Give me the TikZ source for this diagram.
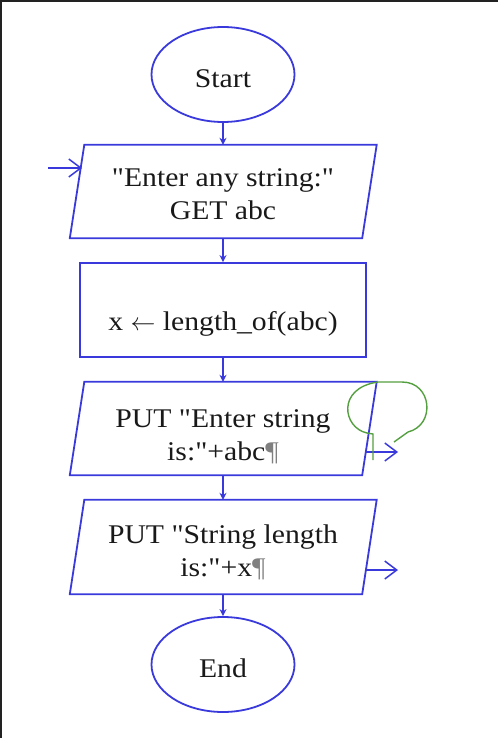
\documentclass[tikz,border=0pt]{standalone}
\usepackage{fontspec}
\setmainfont{Liberation Serif}[FakeStretch=1.1,Ligatures=TeXOff]
\usetikzlibrary{arrows.meta,calc,shapes.geometric}
\definecolor{fblue}{RGB}{58,58,220}
\definecolor{fgreen}{RGB}{84,160,64}
\definecolor{fframe}{RGB}{34,34,34}
\newcommand\low[2]{\raisebox{-#1}[\height][\depth]{\begin{tabular}{@{}c@{}}#2\end{tabular}}}
\begin{document}
\begin{tikzpicture}[x=1pt,y=-1pt,
  outline/.style={draw=fblue,line width=1.8pt},
  term/.style={outline,ellipse,minimum width=143pt,minimum height=95pt,inner sep=0pt},
  io/.style={minimum width=292pt,inner sep=0pt,align=center},
  flow/.style={draw=fblue,line width=1.8pt,-{Stealth[length=7pt,width=7pt]}},
  side/.style={draw=fblue,line width=1.5pt,-{Straight Barb[length=12pt,width=18pt]}},
  txt/.style={font=\fontsize{27}{33}\selectfont,text=black!90}]
\useasboundingbox (0,0) rectangle (498,738);
\draw[fframe,line width=2pt] (1,738) -- (1,1) -- (498,1);

\node[term,txt] (start) at (223,74.5) {\low{6pt}{Start}};
\node[io,txt,minimum height=93pt] (p1) at (223,191.5) {\low{5pt}{"Enter any string:"\\GET abc}};
\draw[outline] ($(p1.north west)+(7.5,0)$) -- ($(p1.north east)+(7.5,0)$) -- ($(p1.south east)+(-7,0)$) -- ($(p1.south west)+(-7,0)$) -- cycle;
\node[outline,txt,minimum width=286pt,minimum height=94pt,inner sep=0pt] (r) at (223,310) {\low{14pt}{x $\leftarrow$ length\_of(abc)}};
\node[io,txt,minimum height=93pt] (p2) at (223,428.5) {\low{9pt}{PUT "Enter string\\is:"+abc{\color{gray}¶}}};
\draw[outline] ($(p2.north west)+(7.5,0)$) -- ($(p2.north east)+(7.5,0)$) -- ($(p2.south east)+(-7,0)$) -- ($(p2.south west)+(-7,0)$) -- cycle;
\node[io,txt,minimum height=94pt] (p3) at (223,547) {\low{6pt}{PUT "String length\\is:"+x{\color{gray}¶}}};
\draw[outline] ($(p3.north west)+(7.5,0)$) -- ($(p3.north east)+(7.5,0)$) -- ($(p3.south east)+(-7,0)$) -- ($(p3.south west)+(-7,0)$) -- cycle;
\node[term,txt] (end) at (223,664.5) {\low{6pt}{End}};

\draw[flow] (start.south) -- (p1.north);
\draw[flow] (p1.south) -- (r.north);
\draw[flow] (r.south) -- (p2.north);
\draw[flow] (p2.south) -- (p3.north);
\draw[flow] (p3.south) -- (end.north);

\coordinate (in1) at (48,168);
\coordinate (in1e) at (82,168);
\draw[side] (in1) -- (in1e);
\coordinate (o2s) at (365,452);
\coordinate (o2e) at (398,452);
\draw[side] (o2s) -- (o2e);
\coordinate (o3s) at (365,570);
\coordinate (o3e) at (398,570);
\draw[side] (o3s) -- (o3e);

\draw[fgreen,line width=1.4pt] (373,460) -- (373,434) -- (367,433)
  .. controls (343,428) and (336,388) .. (378,382) -- (402,382)
  .. controls (432,382) and (436,425) .. (408,432) -- (394,442);
\end{tikzpicture}
\end{document}
